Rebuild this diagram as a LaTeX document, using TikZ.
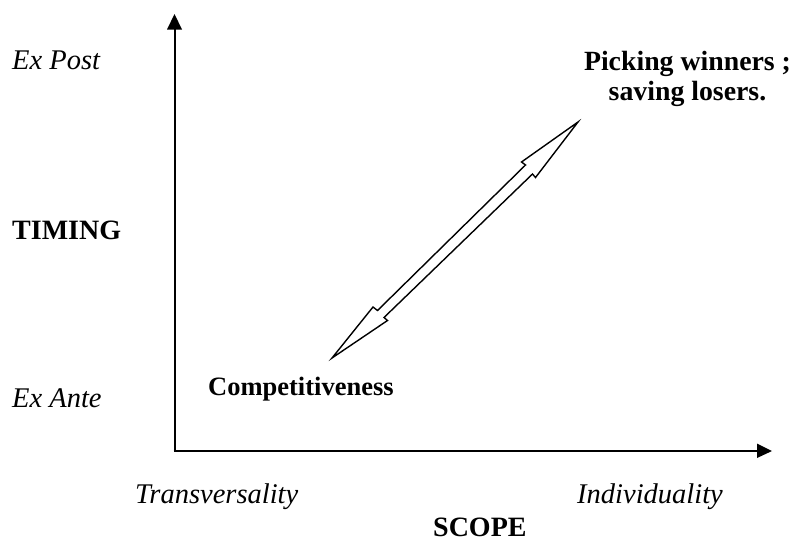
\documentclass[tikz,border=0pt]{standalone}
\usepackage{fontspec}
\setmainfont{Liberation Serif}
\begin{document}
\begin{tikzpicture}[x=1pt,y=-1pt,
  lbl/.style={font=\fontsize{28.5}{32}\selectfont, inner sep=0pt, anchor=base west},
  axis/.style={line width=2pt},
  head/.style={fill=black, draw=none}]
\useasboundingbox (0,0) rectangle (794,541);
% axes
\coordinate (O) at (174.5,451);
\coordinate (Ytip) at (174.5,14);
\coordinate (Xtip) at (772,451);
\draw[axis] (O) -- (174.5,28);
\draw[axis] (173.5,451) -- (758,451);
\fill[head] (Ytip) -- (167,29.5) -- (182,29.5) -- cycle;
\fill[head] (Xtip) -- (757,443.5) -- (757,458) -- cycle;
% double block arrow
\draw[line width=1.4pt, line join=miter, fill=white]
  (332,358) -- (373,307) -- (377.5,310.5) -- (525.5,165) -- (521.5,162) -- (578,122)
  -- (535.5,177.5) -- (532.5,174) -- (384,317.5) -- (387.5,320.5) -- cycle;
% labels
\node[lbl] (expost) at (12,69) {\textit{Ex Post}};
\node[lbl, font=\fontsize{28}{32}\selectfont] (timing) at (12,239) {\textbf{TIMING}};
\node[lbl] (exante) at (12,407) {\textit{Ex Ante}};
\node[lbl, font=\fontsize{26.5}{30}\selectfont] (comp) at (208,395) {\textbf{Competitiveness}};
\node[lbl] (trans) at (135,503) {\textit{Transversality}};
\node[lbl] (indiv) at (577,503) {\textit{Individuality}};
\node[lbl, font=\fontsize{28}{32}\selectfont] (scope) at (433,536) {\textbf{SCOPE}};
\node[font=\fontsize{27.8}{30}\selectfont\bfseries, inner sep=0pt, anchor=base, align=center] (pick) at (687.5,100)
  {Picking winners ;\\saving losers.};
\end{tikzpicture}
\end{document}
